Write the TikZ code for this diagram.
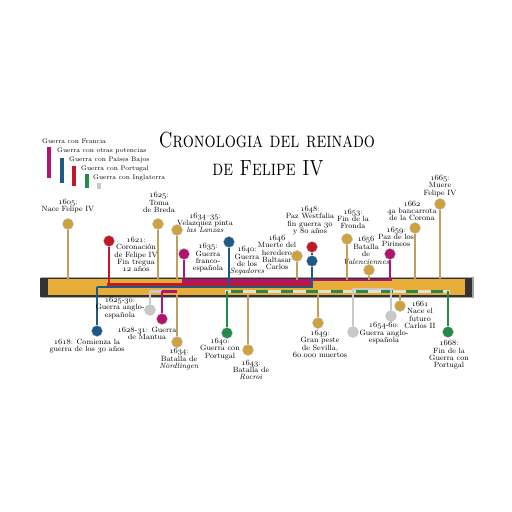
\documentclass[tikz,border=0pt]{standalone}
\usepackage{fontspec}
\definecolor{cbar}{HTML}{E8AC38}
\definecolor{cpin}{HTML}{CFA240}
\definecolor{cstem}{HTML}{BFA060}
\definecolor{cred}{HTML}{C21A24}
\definecolor{cmag}{HTML}{B0146E}
\definecolor{cblue}{HTML}{1F5A86}
\definecolor{cgreen}{HTML}{238A4A}
\definecolor{cgrey}{HTML}{C9C9C9}
\definecolor{clight}{HTML}{E4E0D2}
\newcommand\osn[1]{{\usefont{OML}{cmm}{m}{it}#1}}
\newcommand\labfont{\fontsize{7.6}{7.4}\selectfont}
\begin{document}
\begin{tikzpicture}[x=1pt,y=-1pt,
  lab/.style={align=center,inner sep=0pt,font=\labfont},
  leg/.style={anchor=west,inner sep=0pt,font=\fontsize{6.6}{7}\selectfont},
  dotbase/.style={circle,minimum size=11pt,inner sep=0pt,draw=black!25,line width=0.3pt},
  dotg/.style={dotbase,fill=cpin},
  dotr/.style={dotbase,fill=cred},
  dotm/.style={dotbase,fill=cmag},
  dotb/.style={dotbase,fill=cblue},
  dotv/.style={dotbase,fill=cgreen},
  dotw/.style={dotbase,fill=cgrey},
  stem/.style={line width=2.6pt},
  legbar/.style={line width=3.4pt}]
\useasboundingbox (0,0) rectangle (512,512);
\fill[white] (0,0) rectangle (512,512);

% title
\node[inner sep=0pt,anchor=base] (title1) at (267,147) {\scalebox{1}[1.25]{\fontsize{17.5}{18}\selectfont\scshape Cronologia del reinado}};
\node[inner sep=0pt,anchor=base] (title2) at (268,175) {\scalebox{1}[1.25]{\fontsize{17.5}{18}\selectfont\scshape de Felipe IV}};

% legend
\node[leg] (lg1) at (42,141) {Guerra con Francia};
\node[leg] (lg2) at (57,151) {Guerra con otras potencias};
\node[leg] (lg3) at (69,159.5) {Guerra con Países Bajos};
\node[leg] (lg4) at (81,168.5) {Guerra con Portugal};
\node[leg] (lg5) at (93,178) {Guerra con Inglaterra};
\draw[legbar,cmag] (49,147) -- (49,178);
\draw[legbar,cblue] (62,158) -- (62,183);
\draw[legbar,cred] (74,166) -- (74,186);
\draw[legbar,cgreen] (87,174) -- (87,188);
\draw[legbar,cgrey] (99,183) -- (99,189);

% bar
\fill[black!35] (41,277) rectangle (474,298);
\fill[black!80] (40,278) rectangle (472,296.5);
\fill[cbar] (48,279) rectangle (465,295);
\fill[cred] (107,282.5) rectangle (313,285.5);
\fill[cmag] (182,278.5) rectangle (313,282.8);
\fill[cmag] (313,278.5) rectangle (392,281);
\fill[cblue] (97,285.5) rectangle (313,288.2);
\fill[clight] (225,290) rectangle (450,293);
\draw[cgreen,line width=3pt,dash pattern=on 11.7pt off 13.3pt] (231,291.5) -- (450,291.5);
\fill[cgrey] (150,289.5) rectangle (177,292.5);
\fill[cmag] (162,289.5) rectangle (177,292.5);
\fill[cgrey] (352,287.5) rectangle (393,290);

% top pins
\node[dotg] (d1605) at (68,224) {};
\node[dotr] (d1621) at (109,241) {};
\node[dotg] (d1625) at (158,224) {};
\node[dotg] (d1634) at (177,230) {};
\node[dotm] (d1635) at (184,254) {};
\node[dotb] (d1640s) at (229,242) {};
\node[dotg] (d1646) at (297,256) {};
\node[dotr] (d1648r) at (312,247) {};
\node[dotb] (d1648b) at (312,261) {};
\node[dotg] (d1653) at (347,239) {};
\node[dotg] (d1656) at (369,270) {};
\node[dotm] (d1659) at (390,254) {};
\node[dotg] (d1662) at (415,228) {};
\node[dotg] (d1665) at (440,204) {};

\coordinate (s1605) at (68,279.5);
\coordinate (s1621) at (109,283);
\coordinate (s1625) at (158,279.5);
\coordinate (s1634) at (177,279.5);
\coordinate (s1635) at (184,279.5);
\coordinate (s1640s) at (229,286);
\coordinate (s1646) at (297,279.5);
\coordinate (s1648) at (312,286);
\coordinate (s1653) at (347,279.5);
\coordinate (s1656) at (369,279.5);
\coordinate (s1659) at (390,279.5);
\coordinate (s1662) at (415,279.5);
\coordinate (s1665) at (440,279.5);

\draw[stem,cstem] (d1605) -- (s1605);
\draw[stem,cred] (d1621) -- (s1621);
\draw[stem,cstem] (d1625) -- (s1625);
\draw[stem,cstem] (d1634) -- (s1634);
\draw[stem,cmag] (d1635) -- (s1635);
\draw[stem,cblue] (d1640s) -- (s1640s);
\draw[stem,cstem] (d1646) -- (s1646);
\draw[stem,cblue] (d1648r) -- (d1648b);
\draw[stem,cblue] (d1648b) -- (s1648);
\draw[stem,cstem] (d1653) -- (s1653);
\draw[stem,cstem] (d1656) -- (s1656);
\draw[stem,cmag] (d1659) -- (s1659);
\draw[stem,cstem] (d1662) -- (s1662);
\draw[stem,cstem] (d1665) -- (s1665);

% bottom pins
\node[dotb] (d1618) at (97,331) {};
\node[dotw] (d1625b) at (150,310) {};
\node[dotm] (d1628) at (162,319) {};
\node[dotg] (d1634b) at (177,342) {};
\node[dotv] (d1640p) at (227,333) {};
\node[dotg] (d1643) at (248,350) {};
\node[dotg] (d1649) at (318,323) {};
\node[dotw] (d1654a) at (353,332) {};
\node[dotw] (d1654b) at (391,316) {};
\node[dotg] (d1661) at (400,306) {};
\node[dotv] (d1668) at (448,332) {};

\coordinate (b1618) at (97,287);
\coordinate (b1625) at (150,291);
\coordinate (b1628) at (162,291);
\coordinate (b1634) at (177,295);
\coordinate (b1640) at (227,291);
\coordinate (b1643) at (248,295);
\coordinate (b1649) at (318,295);
\coordinate (b1654a) at (353,289);
\coordinate (b1654b) at (391,289);
\coordinate (b1661) at (400,295);
\coordinate (b1668) at (448,291);

\draw[stem,cblue] (b1618) -- (d1618);
\draw[stem,cgrey] (b1625) -- (d1625b);
\draw[stem,cmag] (b1628) -- (d1628);
\draw[stem,cstem] (b1634) -- (d1634b);
\draw[stem,cgreen] (b1640) -- (d1640p);
\draw[stem,cstem] (b1643) -- (d1643);
\draw[stem,cstem] (b1649) -- (d1649);
\draw[stem,cgrey] (b1654a) -- (d1654a);
\draw[stem,cgrey] (b1654b) -- (d1654b);
\draw[stem,cstem] (b1661) -- (d1661);
\draw[stem,cgreen] (b1668) -- (d1668);

% top labels
\node[lab] (t1605) at (68,206) {\osn{1605}:\\Nace Felipe IV};
\node[lab] (t1621) at (136,254.5) {\osn{1621}:\\Coronación\\de Felipe IV\\Fin tregua\\\osn{12} años};
\node[lab] (t1625) at (159,202.5) {\osn{1625}:\\Toma\\de Breda};
\node[lab] (t1634) at (205,223) {\osn{1634}--\osn{35}:\\Velazquez pinta\\\textit{las Lanzas}};
\node[lab] (t1635) at (208,258) {\osn{1635}:\\Guerra\\franco-\\española};
\node[lab] (t1640s) at (247,261) {\osn{1640}:\\Guerra\\de los\\\textit{Segadores}};
\node[lab] (t1646) at (277,252.5) {\osn{1646}\\Muerte del\\heredero\\Baltasar\\Carlos};
\node[lab] (t1648) at (310,220.5) {\osn{1648}:\\Paz Westfalia\\fin guerra \osn{30}\\y \osn{80} años};
\node[lab] (t1653) at (353,219) {\osn{1653}:\\Fin de la\\Fronda};
\node[lab] (t1656) at (366,250.5) {\osn{1656}\\Batalla\\de\\\textit{Valenciennes}};
\node[lab] (t1659) at (396,237) {\osn{1659}:\\Paz de los\\Pirineos};
\node[lab] (t1662) at (412,211) {\osn{1662}\\\osn{4}a bancarrota\\de la Corona};
\node[lab] (t1665) at (440,186) {\osn{1665}:\\Muere\\Felipe IV};

% bottom labels
\node[lab] (t1618) at (87,346) {\osn{1618}: Comienza la\\guerra de los \osn{30} años};
\node[lab] (t1625b) at (120,308) {\osn{1625}-\osn{30}:\\Guerra anglo-\\española};
\node[lab] (t1628) at (147,333.5) {\osn{1628}-\osn{31}: Guerra\\de Mantua};
\node[lab] (t1634b) at (179,359.5) {\osn{1634}:\\Batalla de\\\textit{Nördlingen}};
\node[lab] (t1640p) at (220,349) {\osn{1640}:\\Guerra con\\Portugal};
\node[lab] (t1643) at (251,370) {\osn{1643}:\\Batalla de\\\textit{Rocroi}};
\node[lab] (t1649) at (320,344) {\osn{1649}:\\Gran peste\\de Sevilla,\\\osn{60}.\osn{000} muertos};
\node[lab] (t1654) at (384,333.5) {\osn{1654}-\osn{60}:\\Guerra anglo-\\española};
\node[lab] (t1661) at (420,315) {\osn{1661}\\Nace el\\futuro\\Carlos II};
\node[lab] (t1668) at (449,355) {\osn{1668}:\\Fin de la\\Guerra con\\Portugal};
\end{tikzpicture}
\end{document}
